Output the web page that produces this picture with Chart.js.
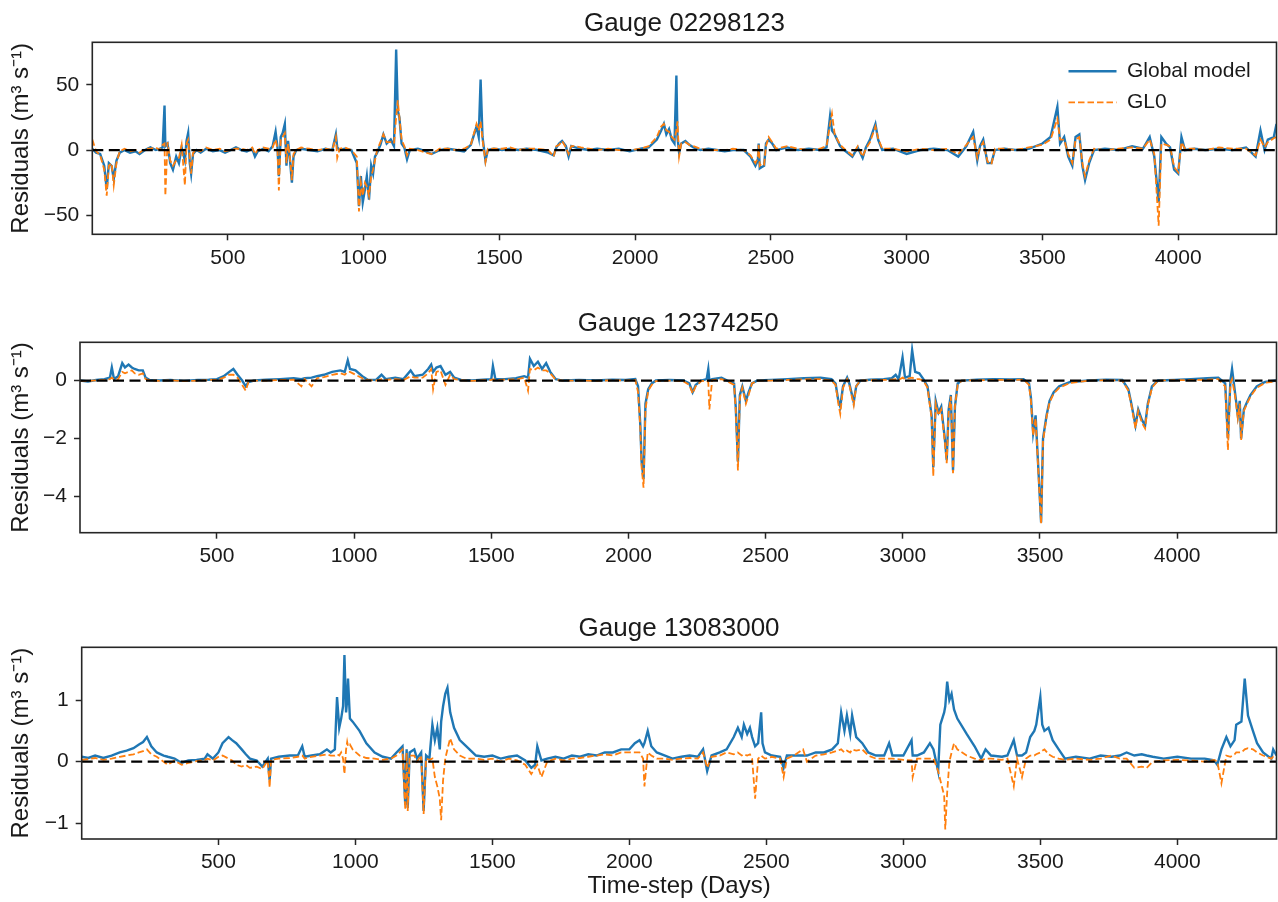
<!DOCTYPE html>
<html><head><meta charset="utf-8">
<script src="https://cdn.jsdelivr.net/npm/chart.js@4/dist/chart.umd.min.js"></script>
<style>
html,body{margin:0;padding:0;background:#fff;}
body{width:1278px;height:902px;position:relative;overflow:hidden;}
canvas{position:absolute;left:0;}
</style></head><body>
<canvas id="c1" width="1278" height="292" style="top:0px;width:1278px;height:292px"></canvas>
<canvas id="c2" width="1278" height="300" style="top:300px;width:1278px;height:300px"></canvas>
<canvas id="c3" width="1278" height="297" style="top:605px;width:1278px;height:297px"></canvas>
<script>
// ---------- data ----------
const seriesNames = ['Global model', 'GL0'];
const gaugeTitles = ['Gauge 02298123', 'Gauge 12374250', 'Gauge 13083000'];
const xTickValues = [500, 1000, 1500, 2000, 2500, 3000, 3500, 4000];
const yTicksG1 = [-50, 0, 50];
const yTicksG2 = [-4, -2, 0];
const yTicksG3 = [-1, 0, 1];

// Gauge 02298123
const g1Days = [1,15,30,45,54,62,72,80,90,102, 120,140,160,175,195,215,235,250,260,267, 270,278,288,298,310,320,330,342,348,354,
 360,365,372,385,400,420,445,470,490,510, 530,550,570,590,600,610,630,650,665,676, 683,688,695,702,710,716,722,730,736,742,
 752,770,800,830,860,885,898,903,912,930, 955,975,983,990,997,1005,1012,1020,1028,1035, 1042,1050,1062,1073,1085,1100,1112,1120,1126,1132,
 1140,1150,1160,1170,1200,1230,1250,1280,1310,1340, 1370,1395,1416,1424,1431,1438,1449,1458,1480,1510, 1540,1570,1600,1640,1680,1700,1710,1720,1731,1745,
 1755,1765,1780,1800,1830,1860,1900,1940,1980,2020, 2050,2080,2096,2106,2115,2125,2135,2145,2152,2156, 2162,2170,2185,2200,2215,2240,2270,2300,2330,2360,
 2400,2425,2443,2452,2455,2459,2467,2475,2482,2492, 2505,2520,2560,2600,2640,2680,2705,2718,2725,2735, 2755,2770,2800,2820,2838,2850,2865,2885,2895,2910,
 2950,3000,3050,3100,3150,3190,3220,3245,3260,3270, 3282,3298,3312,3325,3360,3400,3450,3500,3530,3555, 3565,3580,3595,3610,3622,3636,3647,3657,3672,3690,
 3730,3780,3830,3870,3895,3912,3928,3938,3955,3970, 3985,4000,4012,4025,4060,4100,4150,4200,4250,4285, 4303,4318,4330,4352,4362];
const g1Global = [1,-2,-3,-12,-30,-10,-12,-22,-8,-2, 0,-2,-1,-3,0,2,0,1,2,34, 3,5,-10,-15,-5,-10,2,-8,7,13,
 -10,-18,-3,0,-2,1,-1,0,-2,0, 2,0,-1,1,-5,-1,1,-1,3,14, 2,-20,10,13,20,-12,7,-10,-25,-5,
 0,1,0,-1,1,0,12,2,0,1, 0,-10,-43,-20,-40,-30,-20,-38,-12,-18, -5,-2,4,12,5,8,3,77,30,25,
 5,2,-7,0,1,-1,-3,0,1,0, -1,4,18,10,54,10,-8,0,1,0, 1,0,1,0,-2,-4,2,5,7,3,
 -5,3,2,1,0,1,0,1,-1,1, 2,8,15,20,12,16,8,5,57,10, -2,5,7,4,2,0,1,0,-1,0,
 0,-5,-12,-8,5,-14,-13,-12,5,8, 5,0,2,0,1,0,2,26,15,12, 3,0,-5,2,-6,2,8,20,8,0,
 1,-3,0,1,0,-5,3,14,-8,3, 8,-10,-10,0,1,0,1,5,10,33, 5,10,-5,-12,10,12,-12,-23,-10,0,
 1,0,3,1,10,-5,-40,10,5,2, -15,-18,10,0,1,0,1,0,2,-5, 15,0,8,10,20];
const g1GL0 = [8,-1,-4,-15,-35,-12,-10,-27,-10,-1, 1,-1,0,-2,1,1,2,0,4,5, -35,6,-8,-12,-8,-6,4,-27,5,8,
 -6,-18,-2,0,-1,2,0,1,-1,0, 1,1,0,2,-3,0,2,1,2,8, 1,-31,8,10,13,-10,5,-8,-23,-3,
 0,2,1,0,1,0,10,-6,1,2, 0,-5,-47,-25,-35,-25,-28,-35,-20,-15, -8,0,6,12,6,6,5,25,38,25,
 8,3,-4,1,0,-2,-3,1,1,0, 1,4,20,15,22,8,-9,1,1,1, 2,0,1,1,0,-5,3,4,7,2,
 -3,3,3,2,1,0,1,0,0,1, 3,10,18,20,15,14,10,8,15,22, -5,5,6,4,3,1,0,0,0,1,
 0,-4,-10,-6,4,-12,-10,-11,3,10, 6,1,3,1,0,1,3,20,28,12, 4,1,-4,3,-5,1,6,18,9,1,
 1,-1,1,0,1,-3,4,10,-6,2, 6,-9,-11,1,1,0,2,4,8,24, 8,8,-3,-10,8,10,-10,-20,-8,1,
 0,1,2,1,8,-3,-58,5,4,3, -13,-17,6,1,1,0,2,1,1,-4, 8,2,6,9,10];

// Gauge 12374250
const g2Days = [1,30,60,90,110,117,125,140,155,165, 178,190,200,215,230,240,255,290,330,380, 430,470,500,525,545,560,575,592,605,615,
 635,680,730,780,808,820,845,865,890,920, 950,966,977,985,1005,1030,1050,1080,1100,1115, 1150,1180,1206,1220,1250,1270,1281,1288,1300,1315,
 1333,1350,1365,1390,1430,1470,1500,1506,1515,1550, 1590,1620,1634,1641,1655,1670,1685,1700,1715,1735, 1760,1820,1880,1940,1990,2025,2035,2043,2048,2055,
 2062,2072,2085,2100,2150,2200,2222,2234,2245,2265, 2285,2291,2295,2305,2339,2360,2385,2391,2399,2406, 2415,2428,2438,2450,2470,2520,2580,2640,2700,2740,
 2755,2765,2772,2782,2797,2805,2821,2830,2845,2880, 2930,2960,2974,2985,2999,3008,3025,3034,3045,3060, 3075,3090,3105,3111,3120,3130,3140,3153,3160,3167,
 3175,3183,3190,3200,3215,3270,3330,3390,3440,3460, 3467,3475,3484,3491,3504,3511,3524,3535,3550,3570, 3610,3680,3740,3800,3822,3833,3848,3858,3871,3883,
 3893,3908,3930,3990,4050,4110,4150,4175,4185,4194, 4200,4212,4221,4228,4233,4243,4252,4267,4290,4320, 4362];
const g2Global = [0,-0.03,0.02,0.05,0.1,0.45,0.05,0.15,0.6,0.45, 0.55,0.45,0.4,0.35,0.35,0.1,0.02,0,0.02,-0.01, 0.02,0.03,0.05,0.15,0.3,0.4,0.2,0,-0.2,-0.05,
 0,0.03,0.05,0.08,0.05,0.08,0.1,0.15,0.2,0.3, 0.35,0.3,0.7,0.4,0.35,0.15,0.03,0.02,0.2,0.05, 0.1,0.05,0.35,0.15,0.2,0.4,0.55,0.3,0.45,0.5,
 0.2,0.3,0.1,0.02,0,0.03,0.05,0.5,0.05,0.05, 0.08,0.15,0.1,0.75,0.5,0.65,0.4,0.6,0.3,0.05, 0,0.02,0,0.03,0.02,0.05,-0.2,-1.5,-2.8,-3.4,
 -0.8,-0.3,-0.1,0,0.02,0,-0.1,-0.4,-0.15,0, 0.05,0.4,0,0.05,0.1,0,-0.1,-0.9,-2.8,-0.5, -0.2,-0.7,-0.4,-0.1,0,0.02,0.05,0.08,0.1,0.05,
 -0.1,-0.7,-0.9,-0.2,0.1,-0.1,-0.75,-0.2,0,0.03, 0.05,0.08,0.2,0.05,0.8,0.1,0.15,1.05,0.3,0.25, 0.05,-0.2,-1.2,-3.0,-0.7,-1.1,-0.9,-2.0,-2.75,-1.0,
 -0.5,-3.1,-0.9,-0.1,0,0.03,0.05,0.04,0.05,-0.1, -0.6,-1.8,-1.2,-2.5,-4.9,-2.0,-1.2,-0.7,-0.4,-0.2, -0.05,0,0.03,0.02,-0.3,-0.8,-1.55,-1.0,-1.35,-1.55,
 -0.8,-0.2,0,0.02,0.05,0.08,0.1,-0.1,-2.0,0, 0.4,-0.5,-1.2,-0.7,-2.0,-1.0,-0.8,-0.5,-0.2,-0.05, 0];
const g2GL0 = [0,-0.02,0.01,0.02,0.05,0.1,0.03,0.05,0.3,0.25, 0.3,0.35,0.25,0.2,0.25,0.05,0.01,-0.01,0.01,-0.02, 0,0.02,0.02,0.1,0.2,0.2,0.1,-0.15,-0.35,-0.05,
 0,0,0.02,0.03,-0.2,0.05,-0.2,0.08,0.12,0.2, 0.25,0.2,0.3,0.3,0.2,0.08,0.02,0,0.05,0.02, 0.05,0.02,0.15,0.1,0.1,0.25,0.4,-0.3,0.3,0.35,
 -0.15,0.2,0.05,0.01,-0.01,0.01,0.02,0.05,0.02,0.03, 0.04,0.1,-0.35,0.4,0.35,0.45,0.35,0.35,0.25,0.03, 0,0,-0.01,0.01,0,0.02,-0.4,-1.6,-3.0,-3.7,
 -1.0,-0.35,-0.15,-0.02,0,-0.02,-0.15,-0.45,-0.2,-0.02, 0,-0.05,-1.0,0.02,0.05,-0.02,-0.15,-1.0,-3.1,-0.6, -0.25,-0.8,-0.5,-0.1,0,0,0.02,0.04,0.05,0,
 -0.15,-0.8,-1.15,-0.25,0.05,-0.15,-0.85,-0.2,0,0.01, 0.02,0.03,0.05,0.02,0.1,0.05,0.08,0.1,0.05,0.05, 0,-0.25,-1.3,-3.3,-0.8,-1.2,-1.0,-2.1,-2.85,-1.1,
 -0.55,-3.2,-0.9,-0.15,0,0.01,0.02,0.02,0.03,-0.15, -0.7,-1.9,-1.3,-2.6,-4.95,-2.1,-1.25,-0.75,-0.45,-0.25, -0.08,0,0.01,0,-0.35,-0.85,-1.65,-1.05,-1.45,-1.65,
 -0.85,-0.25,0,0.01,0.02,0.03,0.05,-0.2,-2.4,-0.1, 0.05,-0.6,-1.3,-0.8,-2.05,-1.05,-0.85,-0.55,-0.25,-0.08, -0.02];

// Gauge 13083000
const g3Days = [1,25,50,80,110,140,165,190,210,225, 239,255,275,300,315,340,366,390,420,450, 460,480,500,515,537,550,565,585,600,615,
 640,660,680,687,692,720,760,790,806,815, 840,870,896,910,925,933,941,948,955,960, 966,970,973,980,990,1015,1040,1070,1100,1130,
 1150,1172,1182,1187,1191,1198,1215,1225,1240,1249, 1258,1270,1281,1290,1299,1308,1313,1320,1328,1336, 1346,1360,1381,1405,1440,1470,1500,1530,1560,1590,
 1620,1642,1656,1664,1679,1700,1730,1760,1790,1820, 1850,1880,1910,1940,1970,2000,2020,2037,2050,2055, 2067,2080,2100,2130,2157,2190,2220,2250,2269,2284,
 2300,2330,2355,2381,2396,2410,2418,2430,2440,2448, 2459,2470,2481,2486,2495,2520,2550,2563,2575,2600, 2634,2648,2680,2710,2740,2761,2773,2785,2794,2806,
 2813,2828,2850,2872,2900,2930,2948,2960,3000,3030, 3034,3050,3075,3097,3110,3127,3135,3149,3153,3160, 3168,3176,3185,3197,3231,3260,3284,3300,3320,3360,
 3380,3403,3415,3433,3448,3463,3478,3485,3500,3507, 3515,3530,3545,3567,3590,3630,3680,3720,3760,3790, 3815,3843,3870,3888,3910,3950,4000,4050,4100,4135,
 4146,4161,4179,4194,4209,4215,4234,4246,4258,4276, 4291,4313,4343,4350,4362];
const g3Global = [0.08,0.06,0.1,0.06,0.1,0.15,0.18,0.22,0.28,0.32, 0.4,0.25,0.15,0.1,0.08,0.05,-0.02,0.02,0.03,0.05, 0.12,0.05,0.15,0.3,0.4,0.35,0.3,0.2,0.12,0.05,
 0.02,-0.08,0.05,-0.3,0.05,0.08,0.1,0.1,0.25,0.08, 0.1,0.12,0.2,0.15,0.2,1.05,0.55,0.7,0.9,1.73, 0.8,1.0,1.35,0.7,0.65,0.5,0.3,0.15,0.08,0.05,
 0.15,0.25,-0.7,0.2,-0.75,0.15,0.2,0.05,0.15,-0.8, 0.1,0.05,0.6,0.35,0.55,0.2,0.65,0.9,1.1,1.2, 0.8,0.55,0.35,0.25,0.1,0.08,0.1,0.05,0.08,0.1,
 0.02,-0.1,-0.05,0.25,0.02,0.05,0.08,0.05,0.1,0.08, 0.12,0.1,0.15,0.15,0.2,0.2,0.3,0.35,0.25,0.3, 0.5,0.25,0.15,0.1,0.05,0.08,0.1,0.08,0.2,-0.15,
 0.1,0.15,0.2,0.4,0.55,0.4,0.6,0.45,0.55,0.4, 0.25,0.3,0.8,0.3,0.15,0.1,0.08,-0.1,0.1,0.1, 0.1,0.1,0.15,0.15,0.2,0.3,0.8,0.5,0.75,0.45,
 0.75,0.4,0.3,0.15,0.1,0.1,0.3,0.1,0.1,0.35, 0.1,0.1,0.15,0.3,0.2,-0.15,0.6,0.8,0.9,1.3, 1.0,1.1,0.85,0.7,0.45,0.25,0.05,0.2,0.1,0.08,
 0.1,0.35,0.1,0.1,0.15,0.4,0.5,0.6,1.05,0.6, 0.5,0.55,0.35,0.2,0.05,0.08,0.05,0.1,0.08,0.1, 0.15,0.1,0.12,0.1,0.08,0.05,0.08,0.05,0.05,0.02,
 -0.05,0.2,0.4,0.25,0.35,0.6,0.65,1.35,0.75,0.5, 0.3,0.15,0.05,0.2,0.1];
const g3GL0 = [0.03,0.04,0.06,0.03,0.05,0.08,0.1,0.12,0.15,0.17, 0.2,0.12,0.08,0,-0.05,0.02,-0.05,-0.02,0.01,0.03, 0.05,0.02,0.08,0.1,0.05,0.02,-0.05,-0.08,-0.05,-0.1,
 -0.08,-0.12,0.02,-0.42,0.03,0.05,0.06,0.08,0.1,0.05, 0.08,0.1,0.12,0.1,0.1,0.12,0.1,0.15,0.05,-0.2, 0.2,0.32,0.25,0.28,0.2,0.1,0.06,0.05,0.03,0.05,
 0.1,0.2,-0.78,0.15,-0.8,0.1,0.1,0,0.1,-0.85, 0.05,0.03,0.05,-0.25,-0.4,-0.6,-0.95,-0.3,0.05,0.2, 0.38,0.2,0.1,0.05,0.05,0.03,0.05,0,0.05,0.02,
 -0.05,-0.2,-0.1,-0.05,-0.25,0,0.05,0.02,0.05,0.06, 0.08,0.1,0.12,0.1,0.15,0.15,0.15,0.15,0.05,-0.4, 0.15,0.1,0.05,0.05,0.03,0.05,0.06,0.05,0.15,-0.1,
 0.08,0.1,0.15,0.12,0.15,0.1,0.12,0.1,0.12,0.05, -0.6,0.05,0.1,0.08,0.05,0.08,0.05,-0.25,0.05,0.1, 0.2,0,0.1,0.12,0.15,0.18,0.2,0.15,0.18,0.15,
 0.2,0.18,0.2,0.1,0.05,0.05,0.05,0.05,0.03,0.02, -0.25,0.05,0.05,0.05,0.05,-0.15,-0.3,-0.55,-1.1,-0.5, 0,0.15,0.3,0.2,0.1,0.05,0.02,0.05,0.05,0.03,
 0.05,-0.4,0.05,-0.25,0.05,0.1,0.1,0.12,0.15,0.18, 0.2,0.12,0.08,0.05,0.03,0.05,0.03,0.05,0.1,0.05, 0.05,-0.1,-0.08,-0.1,0,0.02,0.03,0.02,0,0.03,
 0,-0.35,0.1,0.08,0.12,0.15,0.15,0.2,0.22,0.2, 0.15,0.1,0.05,0.08,0.05];

// ---------- rendering ----------
const FONT = '"Liberation Sans", Arial, Helvetica, sans-serif';
Chart.defaults.font.family = FONT;
const TXT = '#1a1a1a';
const X_MIN = 1, X_MAX = 4362;
const LEG_PAD = 10, LEG_FONT = 21, LEG_SAMPLE = 48;

function pts(days, vals) { return days.map((d, i) => ({ x: d, y: vals[i] })); }
function fmtTick(v) { return v < 0 ? '\u2212' + Math.abs(v) : String(v); }

const framePlugin = {
  id: 'frame',
  afterDraw(chart) {
    const a = chart.chartArea, ctx = chart.ctx;
    ctx.save();
    ctx.strokeStyle = '#262626';
    ctx.lineWidth = 1.6;
    ctx.strokeRect(a.left, a.top, a.right - a.left, a.bottom - a.top);
    ctx.restore();
  }
};
// places the Chart.js legend at the top-right inside the plot area and draws its line samples (solid / dashed)
const legendPlace = {
  id: 'legendPlace',
  beforeDraw(chart) {
    const lg = chart.legend;
    if (!lg || !chart.options.plugins.legend.display) return;
    lg.left = chart.chartArea.right - 218;
    lg.right = lg.left + lg.width;
    lg.top = chart.chartArea.top + 8.5;
    lg.bottom = lg.top + 150;
  },
  afterDraw(chart) {
    const lg = chart.legend;
    if (!lg || !chart.options.plugins.legend.display) return;
    const ctx = chart.ctx;
    (lg.legendItems || []).forEach((item, i) => {
      const ds = chart.data.datasets[item.datasetIndex];
      const x0 = lg.left + LEG_PAD;
      const y = lg.top + LEG_PAD + i * (LEG_FONT + LEG_PAD) + LEG_FONT / 2;
      ctx.save();
      ctx.strokeStyle = ds.borderColor;
      ctx.lineWidth = ds.borderWidth;
      ctx.setLineDash(ds.borderDash || []);
      ctx.beginPath();
      ctx.moveTo(x0, y);
      ctx.lineTo(x0 + LEG_SAMPLE, y);
      ctx.stroke();
      ctx.restore();
    });
  }
};

function makeChart(id, p) {
  const ctx = document.getElementById(id);
  return new Chart(ctx, {
    type: 'line',
    data: {
      datasets: [
        { label: seriesNames[0], data: pts(p.days, p.glob), borderColor: '#1f77b4', backgroundColor: '#1f77b4',
          borderWidth: 2.4, pointRadius: 0, tension: 0, order: 2 },
        { label: seriesNames[1], data: pts(p.days, p.gl0), borderColor: '#ff7f0e', backgroundColor: '#ff7f0e',
          borderWidth: 1.8, borderDash: [6.5, 3], pointRadius: 0, tension: 0, order: 1 },
        { label: 'zero', data: p.days.map(d => ({ x: d, y: 0 })), borderColor: '#000', borderWidth: 2.3,
          borderDash: [11, 5.5], pointRadius: 0, tension: 0, order: 0 }
      ]
    },
    options: {
      responsive: false, animation: false, devicePixelRatio: 1,
      layout: { padding: { left: 0, right: 1.5, top: 0, bottom: 0 } },
      plugins: {
        tooltip: { enabled: false },
        title: { display: true, text: p.title, font: { family: FONT, size: 26, weight: 'normal' }, color: TXT,
                 padding: { top: 8, bottom: 3.1 }, fullSize: false },
        legend: {
          display: !!p.legend, position: 'chartArea', align: 'start',
          labels: {
            usePointStyle: true, pointStyle: 'line', pointStyleWidth: LEG_SAMPLE, color: TXT, padding: LEG_PAD,
            font: { family: FONT, size: LEG_FONT },
            generateLabels: chart => Chart.defaults.plugins.legend.labels.generateLabels(chart)
              .filter(it => it.datasetIndex < 2)
              .sort((a, b) => a.datasetIndex - b.datasetIndex)
              .map(it => Object.assign(it, { strokeStyle: 'rgba(0,0,0,0)', fillStyle: 'rgba(0,0,0,0)' }))
          }
        }
      },
      scales: {
        x: {
          type: 'linear', min: X_MIN, max: X_MAX,
          afterBuildTicks: s => { s.ticks = xTickValues.map(v => ({ value: v })); },
          afterFit: s => { s.height = p.xh; },
          ticks: { font: { family: FONT, size: 21 }, color: TXT, padding: 5, maxRotation: 0, autoSkip: false,
                   callback: v => fmtTick(v) },
          grid: { drawOnChartArea: false, drawTicks: true, tickLength: 6, tickWidth: 1.5, tickColor: '#262626' },
          border: { display: false },
          title: { display: !!p.xTitle, text: p.xTitle || '', font: { family: FONT, size: 24 }, color: TXT,
                   padding: { top: 0, bottom: 1 } }
        },
        y: {
          type: 'linear', min: p.yMin, max: p.yMax,
          afterBuildTicks: s => { s.ticks = p.yTicks.map(v => ({ value: v })); },
          afterFit: s => { s.width = p.left; },
          ticks: { font: { family: FONT, size: 21 }, color: TXT, padding: 7, callback: v => fmtTick(v) },
          grid: { drawOnChartArea: false, drawTicks: true, tickLength: 6, tickWidth: 1.5, tickColor: '#262626' },
          border: { display: false },
          title: { display: true, text: 'Residuals (m\u00B3 s\u207B\u00B9)', font: { family: FONT, size: 24 }, color: TXT,
                   padding: { top: 7, bottom: 0 } }
        }
      }
    },
    plugins: [framePlugin, legendPlace]
  });
}

makeChart('c1', { title: gaugeTitles[0], days: g1Days, glob: g1Global, gl0: g1GL0, yMin: -64.5, yMax: 82.5,
  yTicks: yTicksG1, left: 92.3, xh: 292 - 234.3, legend: true });
makeChart('c2', { title: gaugeTitles[1], days: g2Days, glob: g2Global, gl0: g2GL0, yMin: -5.25, yMax: 1.32,
  yTicks: yTicksG2, left: 80, xh: 300 - 232.7 });
makeChart('c3', { title: gaugeTitles[2], days: g3Days, glob: g3Global, gl0: g3GL0, yMin: -1.255, yMax: 1.857,
  yTicks: yTicksG3, left: 81.7, xh: 297 - 234, xTitle: 'Time-step (Days)' });
</script>
</body></html>
